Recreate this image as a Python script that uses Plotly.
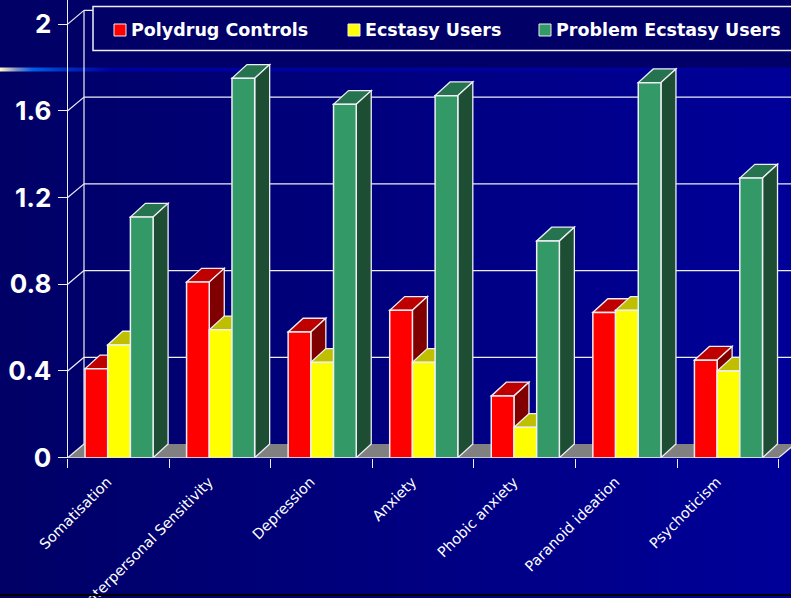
"""3D-look grouped bars of symptom scores, drawn with Plotly bars plus shapes."""
import plotly.graph_objects as go

WIDTH, HEIGHT = 791, 598

CATEGORIES = [
    "Somatisation",
    "Interpersonal Sensitivity",
    "Depression",
    "Anxiety",
    "Phobic anxiety",
    "Paranoid ideation",
    "Psychoticism",
]
POLYDRUG = [0.41, 0.81, 0.58, 0.68, 0.285, 0.67, 0.45]
ECSTASY = [0.52, 0.59, 0.44, 0.44, 0.14, 0.68, 0.40]
PROBLEM = [1.11, 1.75, 1.63, 1.67, 1.00, 1.73, 1.29]
Y_TICKS = [0, 0.4, 0.8, 1.2, 1.6, 2]
Y_LABELS = ["0", "0.4", "0.8", "1.2", "1.6", "2"]

# nombre, valores, frente, tapa, lateral
SERIES = [
    ("Polydrug Controls", POLYDRUG, "#ff0000", "#bf0000", "#800000"),
    ("Ecstasy Users", ECSTASY, "#ffff00", "#bfbf00", "#808000"),
    ("Problem Ecstasy Users", PROBLEM, "#339966", "#267350", "#1d4d33"),
]

# Geometria en pixeles de la ventana
AXIS_LEFT, AXIS_ZERO = 67.7, 457.7
CAT_PX, UNIT_PX = 101.57, 216.8
DEPTH_X = 15 / CAT_PX
WALL_X = 16.3 / CAT_PX
DEPTH_Y = 13.7 / UNIT_PX
BAR_W = 22.7 / CAT_PX
BAR_START = 17.3 / CAT_PX - 0.5
X_RANGE = [-0.5, (WIDTH - AXIS_LEFT) / CAT_PX - 0.5]
Y_RANGE = [0, AXIS_ZERO / UNIT_PX]
LINE = "#eeeef6"


def poly(points, fill, line=LINE, layer="below"):
    path = "M" + "L".join(f"{x},{y}" for x, y in points) + "Z"
    return dict(type="path", path=path, xref="x2", yref="y2", fillcolor=fill,
                line=dict(color=line, width=1.3), layer=layer)


def seg(x0, y0, x1, y1, width=1.2):
    return dict(type="line", x0=x0, y0=y0, x1=x1, y1=y1, xref="x2", yref="y2",
                line=dict(color=LINE, width=width), layer="below")


def px_rect(x0, y0, x1, y1, fill, line=LINE, width=1):
    return dict(type="rect", xref="paper", yref="paper", layer="above",
                x0=x0 / WIDTH, x1=x1 / WIDTH, y0=1 - y0 / HEIGHT, y1=1 - y1 / HEIGHT,
                fillcolor=fill, line=dict(color=line, width=width))


fig = go.Figure()

# Fondo: degradado horizontal, franja superior y linea brillante
fig.add_trace(go.Heatmap(
    x=[0, WIDTH], y=[70, HEIGHT], z=[[0, 1], [0, 1]], zsmooth="best", showscale=False,
    colorscale=[[0, "#000066"], [1, "#000099"]], hoverinfo="skip", xaxis="x", yaxis="y",
))
fig.add_trace(go.Heatmap(
    x=[0, WIDTH], y=[0, 68], z=[[0, 0]], showscale=False,
    colorscale=[[0, "#000066"], [1, "#000066"]], hoverinfo="skip", xaxis="x", yaxis="y",
))
fig.add_trace(go.Heatmap(
    x=[0, WIDTH], y=[68.5, 70.5], z=[[0, 1], [0, 1]], zsmooth="best", showscale=False,
    colorscale=[[0, "#fff6c8"], [0.02, "#8090c0"], [0.04, "#0060e8"], [0.08, "#0030c0"],
                [0.14, "#0000a0"], [1, "#000099"]],
    hoverinfo="skip", xaxis="x", yaxis="y",
))

shapes = []

# Suelo gris y paredes
right = len(CATEGORIES) - 0.5
shapes.append(poly([(-0.5, 0), (right, 0), (right + WALL_X, DEPTH_Y), (-0.5 + WALL_X, DEPTH_Y)],
                   "#808080", line="rgba(0,0,0,0)"))
for tick in Y_TICKS[1:]:
    shapes.append(seg(-0.5 + WALL_X, tick + DEPTH_Y, X_RANGE[1], tick + DEPTH_Y))
for tick in Y_TICKS:
    shapes.append(seg(-0.5, tick, -0.5 + WALL_X, tick + DEPTH_Y))
shapes.append(seg(-0.5 + WALL_X, DEPTH_Y, -0.5 + WALL_X, Y_TICKS[-1] + DEPTH_Y))
shapes.append(seg(right, 0, right + WALL_X, DEPTH_Y))
shapes.append(seg(-0.5, 0, right, 0, width=1.5))

# Tapas y laterales de cada barra, de izquierda a derecha
for i in range(len(CATEGORIES)):
    for s, (name, values, front, top, side) in enumerate(SERIES):
        x0 = i + BAR_START + s * BAR_W
        x1 = x0 + BAR_W
        v = values[i]
        shapes.append(poly([(x0, v), (x1, v), (x1 + DEPTH_X, v + DEPTH_Y), (x0 + DEPTH_X, v + DEPTH_Y)], top))
        shapes.append(poly([(x1, 0), (x1 + DEPTH_X, DEPTH_Y), (x1 + DEPTH_X, v + DEPTH_Y), (x1, v)], side))

# Caras frontales
for s, (name, values, front, top, side) in enumerate(SERIES):
    fig.add_trace(go.Bar(
        x=CATEGORIES, y=values, name=name, width=BAR_W, offset=BAR_START + s * BAR_W,
        marker=dict(color=front, line=dict(color=LINE, width=1.5)),
        xaxis="x2", yaxis="y2", showlegend=False,
    ))

# Leyenda
shapes.append(px_rect(93, 6.5, WIDTH + 5, 50.5, "#000066", width=1.5))
LEGEND_SWATCH_X = [114, 348, 539]
LEGEND_TEXT_X = [130, 364, 555]
annotations = []
for (name, values, front, top, side), sx, tx in zip(SERIES, LEGEND_SWATCH_X, LEGEND_TEXT_X):
    shapes.append(px_rect(sx, 24, sx + 12, 36, front))
    annotations.append(dict(
        text=f"<b>{name}</b>", xref="paper", yref="paper", x=tx / WIDTH, y=1 - 29.5 / HEIGHT,
        xanchor="left", yanchor="middle", showarrow=False, borderpad=0,
        font=dict(family="DejaVu Sans, sans-serif", size=17.5, color="white"),
    ))

# Linea negra inferior, por encima de las etiquetas
shapes.append(px_rect(-2, 594, WIDTH + 2, 596, "#000000", line="rgba(0,0,0,0)", width=0))

fig.update_layout(
    width=WIDTH,
    height=HEIGHT,
    margin=dict(l=0, r=0, t=0, b=0, pad=0),
    paper_bgcolor="#000066",
    plot_bgcolor="rgba(0,0,0,0)",
    barmode="overlay",
    showlegend=False,
    shapes=shapes,
    annotations=annotations,
    xaxis=dict(domain=[0, 1], range=[0, WIDTH], visible=False, fixedrange=True, automargin=False),
    yaxis=dict(domain=[0, 1], range=[HEIGHT, 0], visible=False, fixedrange=True, automargin=False),
    xaxis2=dict(
        domain=[AXIS_LEFT / WIDTH, 1], range=X_RANGE, type="category", categoryorder="array",
        categoryarray=CATEGORIES, anchor="y2", tickson="boundaries", ticks="outside", ticklen=9,
        tickcolor=LINE, tickwidth=1.2, tickangle=-45, showgrid=False, showline=False, zeroline=False,
        automargin=False, ticklabelstandoff=12, ticklabelshift=-11,
        tickfont=dict(family="DejaVu Sans, sans-serif", size=14.5, color="white"),
    ),
    yaxis2=dict(
        domain=[1 - AXIS_ZERO / HEIGHT, 1], range=Y_RANGE, anchor="x2", tickvals=Y_TICKS, ticktext=Y_LABELS,
        ticks="outside", ticklen=9, tickcolor=LINE, tickwidth=1.2, showgrid=False, zeroline=False,
        showline=True, linecolor=LINE, linewidth=1.2, automargin=False, ticklabelstandoff=1,
        tickfont=dict(family="Inter, sans-serif", size=26, color="white", weight="bold"),
    ),
)

fig.write_html("out.html", config=dict(displayModeBar=False),
               post_script="document.body.style.margin='0';")
